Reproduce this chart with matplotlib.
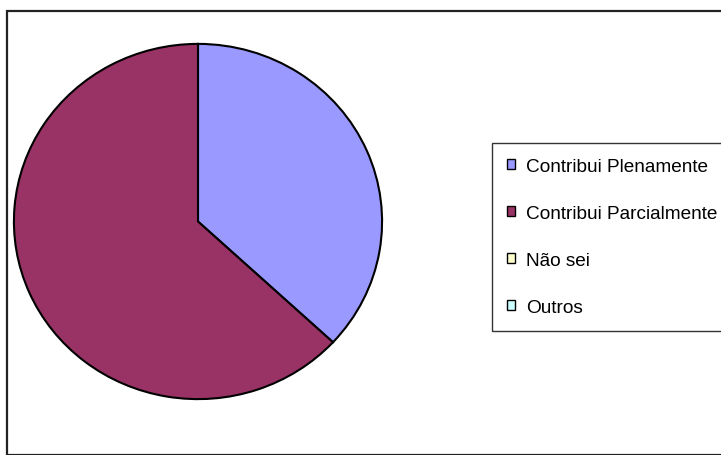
import matplotlib.pyplot as plt
from matplotlib.patches import Rectangle, Patch

labels = ['Contribui Plenamente', 'Contribui Parcialmente', 'Não sei', 'Outros']
values = [36.9, 63.1, 0, 0]
colors = ['#9999FF', '#993366', '#FFFFCC', '#CCFFFF']

W, H = 721, 456
fig = plt.figure(figsize=(W / 100, H / 100), dpi=100)
plt.rcParams['font.family'] = ['Liberation Sans', 'DejaVu Sans']

# outer chart frame
fig.patches.append(Rectangle((7 / W, 0), 1, 1 - 12 / H, transform=fig.transFigure,
                             fill=False, edgecolor='#222222', linewidth=1.6))

ax = fig.add_axes([13 / W, 55 / H, 370 / W, 357 / H])
shown = [v for v in values if v > 0]
ax.pie(shown, colors=colors[:len(shown)], startangle=90, counterclock=False,
       radius=1, wedgeprops=dict(edgecolor='black', linewidth=1.5))
ax.set_aspect('auto')
ax.set_xlim(-1.005, 1.005)
ax.set_ylim(-1.005, 1.005)
ax.axis('off')

handles = [Patch(facecolor=c, edgecolor='black', linewidth=1.0) for c in colors]
leg = fig.legend(handles, labels, loc='upper left',
                 bbox_to_anchor=(492 / W, 1 - 144 / H), borderaxespad=0,
                 fontsize=13.7, frameon=True, fancybox=False, edgecolor='black',
                 handlelength=0.42, handleheight=0.42, handletextpad=0.6,
                 labelspacing=1.58, borderpad=0.78)
leg.get_frame().set_linewidth(1.0)

fig.savefig('out.png', dpi=100)
